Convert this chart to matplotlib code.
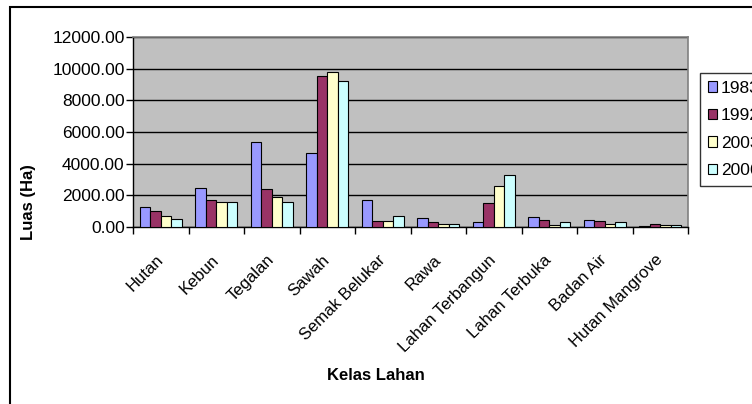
import numpy as np
import matplotlib
matplotlib.use('Agg')
import matplotlib.pyplot as plt
from matplotlib.patches import Rectangle

plt.rcParams['font.family'] = ['Liberation Sans', 'DejaVu Sans']

kelas = ['Hutan', 'Kebun', 'Tegalan', 'Sawah', 'Semak Belukar', 'Rawa',
         'Lahan Terbangun', 'Lahan Terbuka', 'Badan Air', 'Hutan Mangrove']
tahun = ['1983', '1992', '2003', '2006']
luas_1983 = [1245, 2470, 5380, 4680, 1710, 550, 300, 630, 465, 85]
luas_1992 = [990, 1710, 2385, 9515, 380, 300, 1520, 465, 380, 190]
luas_2003 = [717, 1600, 1880, 9810, 380, 170, 2570, 130, 170, 105]
luas_2006 = [527, 1600, 1600, 9200, 717, 170, 3290, 300, 300, 105]
warna = ['#9999FF', '#993366', '#FFFFCC', '#CCFFFF']

W, H = 752, 404
fig = plt.figure(figsize=(W / 100, H / 100), dpi=100)
ax = fig.add_axes([133 / W, 1 - 227 / H, (688 - 133) / W, (227 - 37) / H])
ax.set_facecolor('#C0C0C0')

x = np.arange(len(kelas))
bw = 0.19
series = [luas_1983, luas_1992, luas_2003, luas_2006]
bars = []
for i, (vals, c) in enumerate(zip(series, warna)):
    b = ax.bar(x + (i - 1.5) * bw, vals, bw, color=c, edgecolor='black',
               linewidth=0.8, label=tahun[i], zorder=3)
    bars.append(b)

ax.set_xlim(-0.5, 9.5)
ax.set_ylim(0, 12000)
ax.set_yticks(np.arange(0, 12001, 2000))
ax.set_yticklabels(['%.2f' % v for v in np.arange(0, 12001, 2000)], fontsize=12.5)
ax.yaxis.grid(True, color='black', linewidth=1, zorder=1)
ax.set_axisbelow(True)

ax.set_xticks(x)
ax.set_xticklabels(kelas, fontsize=12, rotation=45, ha='right', va='center',
                   rotation_mode='anchor')
ax.set_xticks(np.arange(-0.5, 10, 1), minor=True)
ax.tick_params(axis='x', which='major', length=0, pad=22)
ax.tick_params(axis='x', which='minor', length=5, width=1, color='black')
ax.tick_params(axis='y', length=5, width=1, pad=1)

for s in ['top', 'right']:
    ax.spines[s].set_color('#808080')
    ax.spines[s].set_linewidth(1.2)
for s in ['left', 'bottom']:
    ax.spines[s].set_color('black')
    ax.spines[s].set_linewidth(1)

ax.set_ylabel('Luas (Ha)', fontsize=12, fontweight='bold')
ax.yaxis.set_label_coords(36 / W, 0.5, transform=fig.transFigure)
ax.set_xlabel('Kelas Lahan', fontsize=12, fontweight='bold')
ax.xaxis.set_label_coords(0.5, 1 - 376 / H, transform=fig.transFigure)
ax.xaxis.label.set_va('center')

leg = fig.legend(handles=bars, labels=tahun, loc='upper left',
                 bbox_to_anchor=(700 / W, 1 - 73 / H), frameon=True,
                 fancybox=False, edgecolor='black', fontsize=12.5,
                 handlelength=0.55, handleheight=0.55, handletextpad=0.2,
                 labelspacing=0.72, borderpad=0.45, borderaxespad=0)
leg.get_frame().set_linewidth(1)
leg._legend_box.sep = 0
for p in leg.get_patches():
    p.set_linewidth(0.8)

fig.add_artist(Rectangle((10 / W, -0.1), 2, (H - 7) / H + 0.1,
                         transform=fig.transFigure, fill=False,
                         edgecolor='black', linewidth=1.5))

fig.savefig('out.png', dpi=100, facecolor='white')
